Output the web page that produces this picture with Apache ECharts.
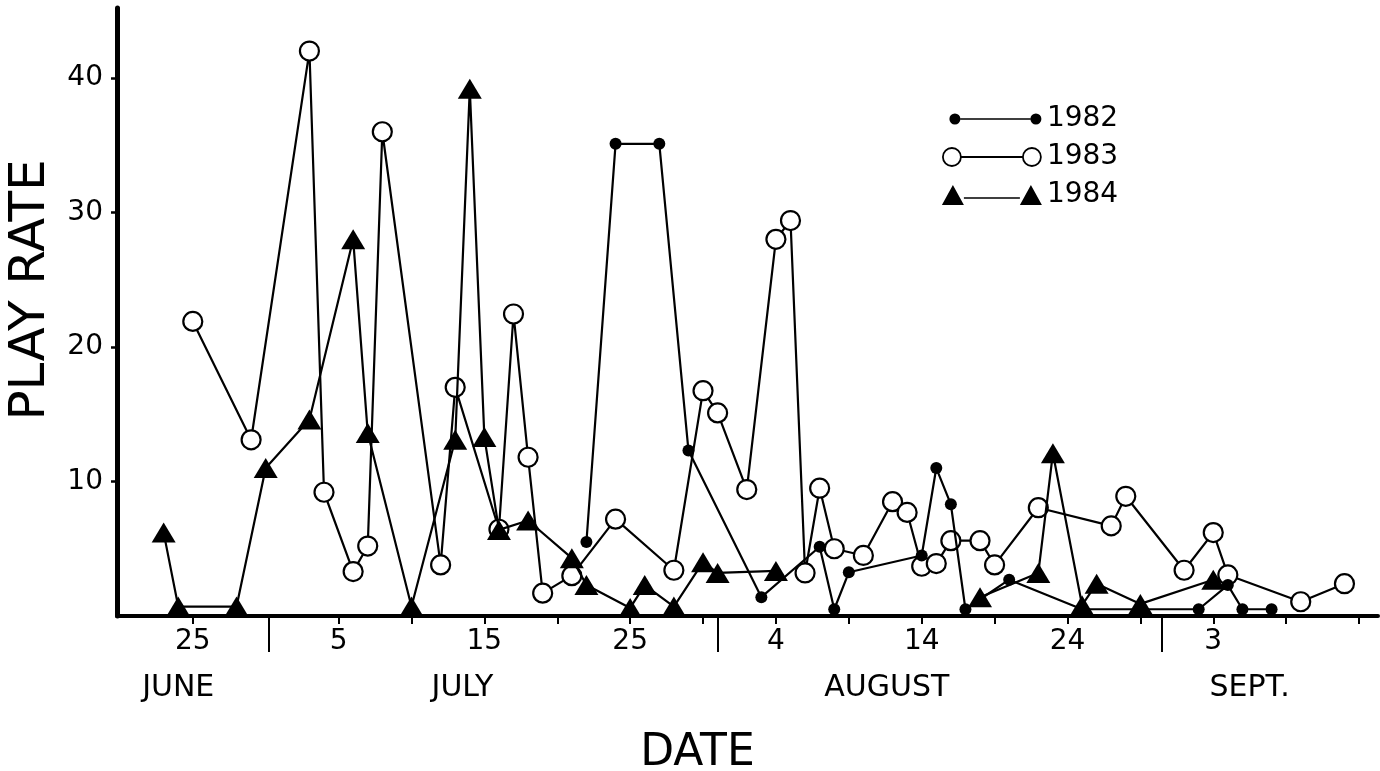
<!DOCTYPE html>
<html>
<head>
<meta charset="utf-8">
<script src="https://cdn.jsdelivr.net/npm/echarts@6/dist/echarts.min.js"></script>
<style>
html,body{margin:0;padding:0;background:#fff;}
#chart{width:1380px;height:771px;}
</style>
</head>
<body>
<div id="chart"></div>
<script>
// Day numbers are counted from 25 June (day 0). 1 July = day 6, 1 Aug = day 37, 1 Sept = day 68.
const days1982 = [27, 29, 32, 34, 39, 43, 44, 45, 50, 51, 52, 53, 56, 61, 69, 71, 72, 74];
const rate1982 = [5.5, 35.1, 35.1, 12.3, 1.4, 5.15, 0.5, 3.25, 4.5, 11.0, 8.3, 0.5, 2.7, 0.5, 0.5, 2.3, 0.5, 0.5];

const days1983 = [0, 4, 8, 9, 11, 12, 13, 17, 18, 21, 22, 23, 24, 26, 29, 33, 35, 36, 38, 40,
                  41, 42, 43, 44, 46, 48, 49, 50, 51, 52, 54, 55, 58, 63, 64, 68, 70, 71, 76, 79];
const rate1983 = [21.9, 13.1, 42.0, 9.2, 3.3, 5.2, 36.0, 3.8, 17.0, 6.45, 22.45, 11.8, 1.7, 3.0, 7.2, 3.4, 16.75, 15.1, 9.4, 28.0,
                  29.4, 3.2, 9.5, 5.0, 4.5, 8.5, 7.7, 3.7, 3.9, 5.6, 5.6, 3.8, 8.05, 6.7, 8.9, 3.4, 6.2, 3.05, 1.06, 2.4];

const days1984 = [-2, -1, 3, 5, 8, 11, 12, 15, 18, 19, 20, 21, 23, 26, 27, 30, 31, 33, 35, 36,
                  40, 47, 54, 58, 59, 61, 62, 65, 70];
const rate1984 = [6.2, 0.7, 0.7, 11.0, 14.6, 28.0, 13.6, 0.7, 13.1, 39.2, 13.3, 6.4, 7.1, 4.3, 2.3, 0.6, 2.3, 0.7, 4.0, 3.2,
                  3.35, null, 1.4, 3.2, 12.1, 0.8, 2.4, 0.9, 2.7];

const seriesNames = ['1982', '1983', '1984'];

// x-axis tick labels (day of month) and their day numbers
const dayTickDays = [0, 10, 20, 30, 40, 50, 60, 70];
const dayTickLabels = ['25', '5', '15', '25', '4', '14', '24', '3'];
const minorTickDays = [0, 10, 15, 20, 25, 30, 35, 40, 45, 50, 55, 60, 65, 70, 75, 80];
const monthNames = ['JUNE', 'JULY', 'AUGUST', 'SEPT.'];
const yTickValues = [10, 20, 30, 40];

// layout helpers (not data)
const monthLabelAt = [-1.0, 18.5, 47.6, 72.5];
const monthSeparatorAt = [5.2, 36.0, 66.5];

const FONT = 'DejaVu Sans';
function pairs(xs, ys) { return xs.map((x, i) => [x, ys[i]]); }

const chart = echarts.init(document.getElementById('chart'), null, {renderer: 'canvas'});

const iconDot = 'path://M0,0M100,20M7.5,10a5.5,5.5 0 1,0 11,0a5.5,5.5 0 1,0 -11,0ZM18.5,9.2L88.5,9.2L88.5,10.8L18.5,10.8ZM88.5,10a5.5,5.5 0 1,0 11,0a5.5,5.5 0 1,0 -11,0Z';
const iconCircle = 'path://M0,0M100,20M1,10a9,9 0 1,0 18,0a9,9 0 1,0 -18,0ZM19,9.9L81,9.9L81,10.1L19,10.1ZM81,10a9,9 0 1,0 18,0a9,9 0 1,0 -18,0Z';
const iconTri = 'path://M0,0M100,20M0,20L11,0L22,20ZM22,12.2L78,12.2L78,13.8L22,13.8ZM78,20L89,0L100,20Z';

const option = {
  animation: false,
  backgroundColor: '#fff',
  textStyle: {fontFamily: FONT, color: '#000'},
  grid: {left: 117, right: 2, top: 8, bottom: 155, containLabel: false, outerBoundsMode: 'none'},
  legend: {
    orient: 'vertical',
    left: 941, top: 105,
    padding: 0,
    itemWidth: 100, itemHeight: 20, itemGap: 10,
    textStyle: {fontFamily: FONT, fontSize: 28, color: '#000'},
    selectedMode: false,
    data: [
      {name: seriesNames[0], icon: iconDot, itemStyle: {color: '#000', borderWidth: 0}},
      {name: seriesNames[1], icon: iconCircle, itemStyle: {color: '#fff', borderColor: '#000', borderWidth: 1.8}},
      {name: seriesNames[2], icon: iconTri, itemStyle: {color: '#000', borderWidth: 0}}
    ]
  },
  xAxis: [
    {
      type: 'value', min: -5.2, max: 81.3, position: 'bottom',
      name: 'DATE', nameLocation: 'middle', nameGap: 116,
      nameTextStyle: {fontFamily: FONT, fontSize: 44, color: '#000', padding: [0, 100, 0, 0]},
      axisLine: {show: true, onZero: false, lineStyle: {color: '#000', width: 4}},
      axisTick: {show: true, inside: false, length: 8, customValues: minorTickDays, lineStyle: {color: '#000', width: 2}},
      axisLabel: {
        show: true, margin: 12, fontSize: 28, fontFamily: FONT, color: '#000',
        customValues: dayTickDays,
        formatter: v => dayTickLabels[dayTickDays.indexOf(v)]
      },
      splitLine: {show: false}
    },
    {
      type: 'value', min: -5.2, max: 81.3, position: 'bottom',
      axisLine: {show: false, onZero: false},
      axisTick: {show: true, inside: false, length: 36, customValues: monthSeparatorAt, lineStyle: {color: '#000', width: 2}},
      axisLabel: {
        show: true, margin: 57, fontSize: 30, fontFamily: FONT, color: '#000',
        customValues: monthLabelAt,
        formatter: v => monthNames[monthLabelAt.indexOf(v)]
      },
      splitLine: {show: false}
    }
  ],
  yAxis: {
    type: 'value', min: 0, max: 45.2,
    name: 'PLAY RATE', nameLocation: 'middle', nameRotate: 90, nameGap: 57,
    nameTextStyle: {fontFamily: FONT, fontSize: 50, color: '#000', padding: [0, 0, 0, 44]},
    axisLine: {show: true, onZero: false, lineStyle: {color: '#000', width: 5}},
    axisTick: {show: true, inside: false, length: 6, customValues: yTickValues, lineStyle: {color: '#000', width: 2.5}},
    axisLabel: {show: true, margin: 14, fontSize: 28, fontFamily: FONT, color: '#000', customValues: yTickValues},
    splitLine: {show: false}
  },
  series: [
    {
      name: seriesNames[1], type: 'line', z: 2,
      data: pairs(days1983, rate1983),
      symbol: 'circle', symbolSize: 19,
      itemStyle: {color: '#fff', borderColor: '#000', borderWidth: 2.2},
      lineStyle: {color: '#000', width: 2.2},
      emphasis: {disabled: true}
    },
    {
      name: seriesNames[2], type: 'line', z: 3,
      data: pairs(days1984, rate1984),
      connectNulls: false,
      symbol: 'triangle', symbolSize: [24, 20],
      itemStyle: {color: '#000'},
      lineStyle: {color: '#000', width: 2.2},
      emphasis: {disabled: true}
    },
    {
      name: seriesNames[0], type: 'line', z: 4,
      data: pairs(days1982, rate1982),
      symbol: 'circle', symbolSize: 12,
      itemStyle: {color: '#000'},
      lineStyle: {color: '#000', width: 2.2},
      emphasis: {disabled: true}
    }
  ]
};
chart.setOption(option);
</script>
</body>
</html>
